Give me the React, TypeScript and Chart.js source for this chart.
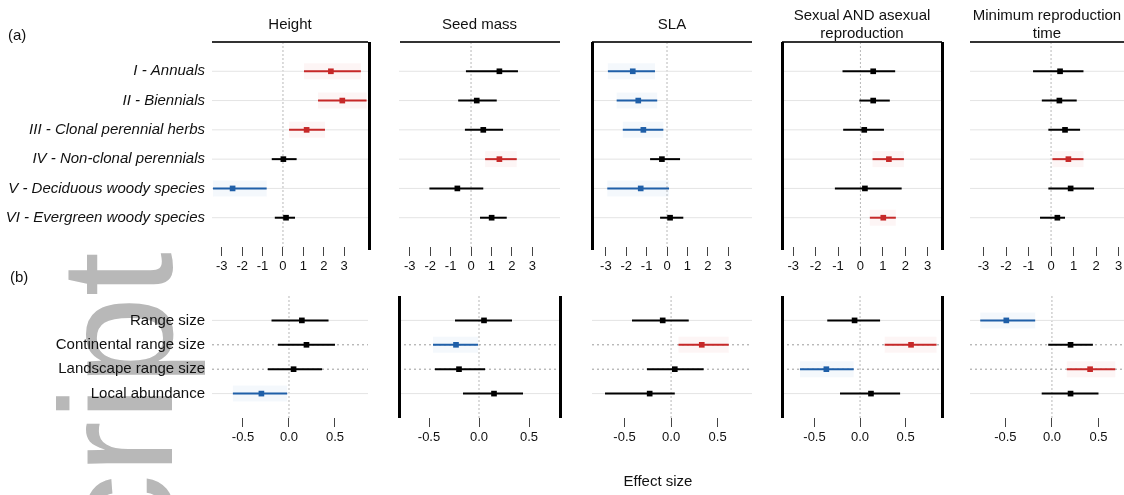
import React, { useEffect, useRef } from "react";
import { Chart, registerables } from "chart.js";

Chart.register(...registerables);

// ---------- data ----------
const TRAITS = [
  "Height",
  "Seed mass",
  "SLA",
  "Sexual AND asexual\nreproduction",
  "Minimum reproduction\ntime",
];

const GROUPS_A = [
  "I - Annuals",
  "II - Biennials",
  "III - Clonal perennial herbs",
  "IV - Non-clonal perennials",
  "V - Deciduous woody species",
  "VI - Evergreen woody species",
];

const GROUPS_B = [
  "Range size",
  "Continental range size",
  "Landscape range size",
  "Local abundance",
];

const TICKS_A = [-3, -2, -1, 0, 1, 2, 3];
const TICKS_B = [-0.5, 0, 0.5];

// panel (a): one array per trait, order = GROUPS_A
const EST_A = [
  [2.35, 2.91, 1.16, 0.02, -2.47, 0.15],
  [1.39, 0.28, 0.6, 1.39, -0.67, 1.01],
  [-1.68, -1.41, -1.16, -0.25, -1.29, 0.15],
  [0.57, 0.57, 0.17, 1.27, 0.2, 1.02],
  [0.4, 0.37, 0.62, 0.77, 0.87, 0.28],
];
const LO_A = [
  [1.03, 1.72, 0.3, -0.55, -3.43, -0.4],
  [-0.25, -0.63, -0.3, 0.69, -2.04, 0.44],
  [-2.9, -2.47, -2.17, -0.83, -2.93, -0.34],
  [-0.8, -0.05, -0.77, 0.54, -1.14, 0.42],
  [-0.8, -0.41, -0.12, 0.06, -0.12, -0.49],
];
const HI_A = [
  [3.82, 4.1, 2.06, 0.67, -0.8, 0.59],
  [2.3, 1.26, 1.57, 2.24, 0.6, 1.75],
  [-0.59, -0.48, -0.18, 0.64, 0.1, 0.8],
  [1.55, 1.31, 1.05, 1.94, 1.84, 1.58],
  [1.44, 1.14, 1.29, 1.44, 1.91, 0.62],
];
// 1 = positive (red), -1 = negative (blue), 0 = n.s. (black)
const SIG_A = [
  [1, 1, 1, 0, -1, 0],
  [0, 0, 0, 1, 0, 0],
  [-1, -1, -1, 0, -1, 0],
  [0, 0, 0, 1, 0, 1],
  [0, 0, 0, 1, 0, 0],
];

// panel (b): order = GROUPS_B
const EST_B = [
  [0.14, 0.19, 0.05, -0.3],
  [0.05, -0.23, -0.2, 0.15],
  [-0.09, 0.33, 0.04, -0.23],
  [-0.06, 0.56, -0.37, 0.12],
  [-0.49, 0.2, 0.41, 0.2],
];
const LO_B = [
  [-0.19, -0.12, -0.23, -0.61],
  [-0.24, -0.46, -0.44, -0.16],
  [-0.42, 0.08, -0.26, -0.71],
  [-0.36, 0.27, -0.66, -0.22],
  [-0.77, -0.04, 0.16, -0.11],
];
const HI_B = [
  [0.43, 0.5, 0.36, -0.02],
  [0.33, -0.01, 0.06, 0.44],
  [0.19, 0.62, 0.35, 0.04],
  [0.22, 0.84, -0.07, 0.44],
  [-0.18, 0.44, 0.68, 0.5],
];
const SIG_B = [
  [0, 0, 0, -1],
  [0, -1, 0, 0],
  [0, 1, 0, 0],
  [0, 1, -1, 0],
  [-1, 0, 1, 0],
];
const DASHED_ROWS_B = [false, true, true, false];

// axis ranges for each panel
const XRANGE_A = [
  [-3.48, 4.17],
  [-3.53, 4.36],
  [-3.68, 4.17],
  [-3.5, 3.64],
  [-3.6, 3.24],
];
const XRANGE_B = [
  [-0.837, 0.859],
  [-0.8, 0.81],
  [-0.85, 0.87],
  [-0.857, 0.9],
  [-0.88, 0.774],
];

// ---------- layout ----------
const COL_LEFT = [212, 399, 592, 782, 970];
const COL_RIGHT = [368, 560, 752, 942, 1124];
const FONT = "'Liberation Sans', Arial, Helvetica, sans-serif";
const RED = "#c62828";
const BLUE = "#1f5fa8";
const BLACK = "#000000";

const colorOf = (s: number) => (s > 0 ? RED : s < 0 ? BLUE : BLACK);
const bandOf = (s: number) =>
  s > 0 ? "rgba(220,60,60,0.05)" : s < 0 ? "rgba(40,110,200,0.05)" : "rgba(0,0,0,0)";

type PanelCfg = {
  est: number[];
  lo: number[];
  hi: number[];
  sig: number[];
  groups: string[];
  dashed: boolean[];
  xr: number[];
  ticks: number[];
  decimals: number;
  showLabels: boolean;
  italic: boolean;
  padLeft: number;
  padRight: number;
  labelWidth: number;
};

function buildConfig(p: PanelCfg): any {
  const n = p.est.length;
  const datasets: any[] = [];
  // points
  datasets.push({
    data: p.est.map((e, i) => ({ x: e, y: i })),
    pointStyle: "rect",
    pointRadius: 4,
    pointBackgroundColor: p.sig.map(colorOf),
    pointBorderWidth: 0,
    showLine: false,
    order: 0,
  });
  // confidence intervals
  p.est.forEach((_, i) => {
    datasets.push({
      data: [
        { x: p.lo[i], y: i },
        { x: p.hi[i], y: i },
      ],
      showLine: true,
      borderColor: colorOf(p.sig[i]),
      borderWidth: 2,
      pointRadius: 0,
      order: 1,
    });
    datasets.push({
      data: [
        { x: p.lo[i], y: i },
        { x: p.hi[i], y: i },
      ],
      showLine: true,
      borderColor: bandOf(p.sig[i]),
      borderWidth: 16,
      pointRadius: 0,
      order: 2,
    });
  });
  // row guide lines
  p.groups.forEach((_, i) => {
    const d = p.dashed[i];
    datasets.push({
      data: [
        { x: p.xr[0], y: i },
        { x: p.xr[1], y: i },
      ],
      showLine: true,
      borderColor: d ? "#9c9c9c" : "#e4e4e4",
      borderDash: d ? [2, 3] : [],
      borderWidth: 1,
      pointRadius: 0,
      order: 3,
    });
  });
  // zero line
  datasets.push({
    data: [
      { x: 0, y: -1 },
      { x: 0, y: n },
    ],
    showLine: true,
    borderColor: "#b8b8b8",
    borderDash: [2, 2],
    borderWidth: 1,
    pointRadius: 0,
    order: 3,
  });

  return {
    type: "scatter",
    data: { datasets },
    options: {
      animation: false,
      responsive: false,
      maintainAspectRatio: false,
      events: [],
      layout: { padding: { left: p.padLeft, right: p.padRight, top: 10, bottom: 0 } },
      plugins: { legend: { display: false }, tooltip: { enabled: false }, title: { display: false } },
      scales: {
        x: {
          type: "linear",
          min: p.xr[0],
          max: p.xr[1],
          border: { display: false },
          grid: {
            display: true,
            drawOnChartArea: false,
            drawTicks: true,
            tickLength: 9,
            tickColor: "#444",
            tickWidth: 1,
          },
          afterBuildTicks: (s: any) => {
            s.ticks = p.ticks.map((v) => ({ value: v }));
          },
          afterFit: (s: any) => {
            s.height = 40;
          },
          ticks: {
            autoSkip: false,
            maxRotation: 0,
            padding: 3,
            color: "#111",
            font: { family: FONT, size: 13 },
            callback: (v: any) => Number(v).toFixed(p.decimals),
          },
        },
        y: {
          type: "linear",
          reverse: true,
          min: -1,
          max: n,
          display: p.showLabels,
          border: { display: false },
          grid: { display: false, drawTicks: false },
          afterBuildTicks: (s: any) => {
            s.ticks = p.groups.map((_, i) => ({ value: i }));
          },
          afterFit: (s: any) => {
            s.width = p.showLabels ? p.labelWidth : 0;
            s.paddingTop = 0;
            s.paddingBottom = 0;
          },
          ticks: {
            autoSkip: false,
            padding: 7,
            color: "#111",
            font: { family: FONT, size: 15, style: p.italic ? "italic" : "normal" },
            callback: (v: any) => p.groups[Number(v)] ?? "",
          },
        },
      },
    },
  };
}

function Panel(props: { cfg: PanelCfg; left: number; top: number; width: number; height: number }) {
  const ref = useRef<HTMLCanvasElement | null>(null);
  useEffect(() => {
    if (!ref.current) return;
    const chart = new Chart(ref.current, buildConfig(props.cfg));
    return () => chart.destroy();
  }, []);
  return (
    <canvas
      ref={ref}
      width={props.width}
      height={props.height}
      style={{
        position: "absolute",
        left: props.left,
        top: props.top,
        width: props.width,
        height: props.height,
      }}
    />
  );
}

const vline = (x: number, y1: number, y2: number, key: string) => (
  <div
    key={key}
    style={{ position: "absolute", left: x - 1.5, top: y1, width: 3, height: y2 - y1, background: "#000" }}
  />
);
const hline = (x1: number, x2: number, y: number, key: string) => (
  <div
    key={key}
    style={{ position: "absolute", left: x1, top: y - 1, width: x2 - x1, height: 1.5, background: "#333" }}
  />
);

export default function App() {
  const panels: any[] = [];
  for (let c = 0; c < 5; c++) {
    const first = c === 0;
    const left = first ? 0 : COL_LEFT[c] - 20;
    const width = COL_RIGHT[c] + 20 - left;
    const common = {
      padLeft: first ? 0 : 20,
      padRight: 20,
      labelWidth: COL_LEFT[0],
      showLabels: first,
    };
    panels.push(
      <Panel
        key={"a" + c}
        left={left}
        top={32}
        width={width}
        height={255}
        cfg={{
          ...common,
          est: EST_A[c],
          lo: LO_A[c],
          hi: HI_A[c],
          sig: SIG_A[c],
          groups: GROUPS_A,
          dashed: GROUPS_A.map(() => false),
          xr: XRANGE_A[c],
          ticks: TICKS_A,
          decimals: 0,
          italic: true,
        }}
      />
    );
    panels.push(
      <Panel
        key={"b" + c}
        left={left}
        top={286}
        width={width}
        height={172}
        cfg={{
          ...common,
          est: EST_B[c],
          lo: LO_B[c],
          hi: HI_B[c],
          sig: SIG_B[c],
          groups: GROUPS_B,
          dashed: DASHED_ROWS_B,
          xr: XRANGE_B[c],
          ticks: TICKS_B,
          decimals: 1,
          italic: false,
        }}
      />
    );
  }

  const titles = TRAITS.map((t, c) => (
    <div
      key={"t" + c}
      style={{
        position: "absolute",
        left: (COL_LEFT[c] + COL_RIGHT[c]) / 2 - 100,
        width: 200,
        top: 6,
        height: 36,
        display: "flex",
        alignItems: "center",
        justifyContent: "center",
        textAlign: "center",
        whiteSpace: "pre-line",
        fontFamily: FONT,
        fontSize: 15,
        lineHeight: "18px",
        color: "#111",
      }}
    >
      {t}
    </div>
  ));

  const lines = [
    hline(212, 368, 42, "h0"),
    hline(400, 560, 42, "h1"),
    hline(592, 752, 42, "h2"),
    hline(782, 942, 42, "h3"),
    hline(970, 1124, 42, "h4"),
    vline(369, 42, 250, "va0"),
    vline(592, 42, 250, "va1"),
    vline(782, 42, 250, "va2"),
    vline(942, 42, 250, "va3"),
    vline(399, 296, 418, "vb0"),
    vline(560, 296, 418, "vb1"),
    vline(782, 296, 418, "vb2"),
    vline(942, 296, 418, "vb3"),
  ];

  return (
    <div
      style={{
        position: "fixed",
        left: 0,
        top: 0,
        width: 1124,
        height: 495,
        overflow: "hidden",
        background: "#fff",
      }}
    >
      <div
        style={{
          position: "absolute",
          left: 37,
          top: 252,
          transformOrigin: "left top",
          transform: "rotate(-90deg) translateX(-100%)",
          whiteSpace: "nowrap",
          fontFamily: FONT,
          fontSize: 160,
          lineHeight: 1,
          color: "#b8b8b8",
        }}
      >
        Author Manuscript
      </div>
      {panels}
      {lines}
      {titles}
      <div style={{ position: "absolute", left: 8, top: 26, fontFamily: FONT, fontSize: 15, color: "#111" }}>(a)</div>
      <div style={{ position: "absolute", left: 10, top: 268, fontFamily: FONT, fontSize: 15, color: "#111" }}>(b)</div>
      <div
        style={{
          position: "absolute",
          left: 558,
          width: 200,
          top: 472,
          textAlign: "center",
          fontFamily: FONT,
          fontSize: 15,
          color: "#111",
        }}
      >
        Effect size
      </div>
    </div>
  );
}
